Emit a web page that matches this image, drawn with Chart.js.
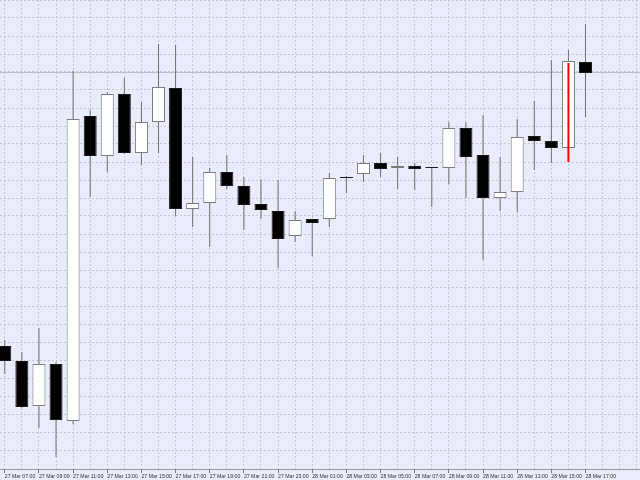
<!DOCTYPE html>
<html>
<head>
<meta charset="utf-8">
<title>Candles</title>
<script src="https://cdn.jsdelivr.net/npm/chart.js@4.4.0/dist/chart.umd.min.js"></script>
<style>
  html, body { margin: 0; padding: 0; background: #e9edfb; }
  #wrap { width: 640px; height: 480px; position: relative; }
</style>
</head>
<body>
<div id="wrap"><canvas id="myChart"></canvas></div>
<script>
// hourly bars, 27 Mar 07:00 -> 28 Mar 17:00 (price in points)
const times = [
  "27 Mar 07:00", "27 Mar 08:00", "27 Mar 09:00", "27 Mar 10:00", "27 Mar 11:00",
  "27 Mar 12:00", "27 Mar 13:00", "27 Mar 14:00", "27 Mar 15:00", "27 Mar 16:00",
  "27 Mar 17:00", "27 Mar 18:00", "27 Mar 19:00", "27 Mar 20:00", "27 Mar 21:00",
  "27 Mar 22:00", "27 Mar 23:00", "28 Mar 00:00", "28 Mar 01:00", "28 Mar 02:00",
  "28 Mar 03:00", "28 Mar 04:00", "28 Mar 05:00", "28 Mar 06:00", "28 Mar 07:00",
  "28 Mar 08:00", "28 Mar 09:00", "28 Mar 10:00", "28 Mar 11:00", "28 Mar 12:00",
  "28 Mar 13:00", "28 Mar 14:00", "28 Mar 15:00", "28 Mar 16:00", "28 Mar 17:00"
];
const opens  = [122, 107, 62, 104, 47, 352, 312, 374, 315, 346, 380, 259, 265, 296, 282, 264, 257, 232, 249, 249, 291, 294, 305, 300, 302, 301, 300, 340, 313, 270, 276, 332, 327, 320, 406];
const highs  = [128, 116, 140, 106, 397, 358, 376, 390, 366, 424, 423, 311, 300, 313, 291, 289, 288, 257, 249, 295, 292, 313, 315, 311, 305, 301, 346, 346, 353, 311, 349, 367, 408, 418, 444];
const lows   = [94, 60, 40, 11, 44, 271, 296, 314, 303, 315, 252, 241, 221, 279, 238, 249, 200, 226, 212, 241, 275, 286, 291, 279, 278, 261, 284, 270, 208, 257, 256, 298, 305, 306, 351];
const closes = [107, 61, 104, 48, 349, 312, 374, 315, 346, 381, 259, 265, 296, 282, 263, 258, 229, 248, 245, 290, 290, 305, 299, 302, 299, 300, 340, 311, 270, 276, 331, 327, 320, 407, 395];
// red vertical line drawn over the 28 Mar 16:00 bar
const markerIndex = 33;
const markerRange = [306, 405];

const wickData = times.map((t, i) => ({ x: i, y: [lows[i], highs[i]] }));
const bodyData = times.map((t, i) => ({ x: i, y: [opens[i], closes[i]] }));
const isUp = times.map((t, i) => closes[i] >= opens[i]);

// light grey line at the last close (like the bid line)
const bidLine = {
  id: 'bidLine',
  beforeDatasetsDraw(chart) {
    const { ctx, chartArea, scales } = chart;
    const y = Math.round(scales.y.getPixelForValue(closes[closes.length - 1])) - 0.5;
    ctx.save();
    ctx.strokeStyle = '#b9bdc8';
    ctx.lineWidth = 1;
    ctx.beginPath();
    ctx.moveTo(chartArea.left, y);
    ctx.lineTo(chartArea.right, y);
    ctx.stroke();
    ctx.restore();
  }
};

const ctx = document.getElementById('myChart');
const myChart = new Chart(ctx, {
  type: 'bar',
  data: {
    datasets: [
      {
        label: 'marker',
        data: [{ x: markerIndex, y: markerRange }],
        backgroundColor: '#ff0000',
        borderWidth: 0,
        barThickness: 2,
        grouped: false,
        inflateAmount: 0,
        order: 1
      },
      {
        label: 'body',
        data: bodyData,
        backgroundColor: isUp.map(u => u ? '#ffffff' : '#000000'),
        borderColor: isUp.map(u => u ? '#7c7c7c' : '#1a1a1a'),
        borderWidth: 1,
        borderSkipped: false,
        barThickness: 13,
        grouped: false,
        inflateAmount: 0,
        order: 2
      },
      {
        label: 'wick',
        data: wickData,
        backgroundColor: '#707070',
        borderWidth: 0,
        barThickness: 1,
        grouped: false,
        inflateAmount: 0,
        order: 3
      }
    ]
  },
  options: {
    animation: false,
    responsive: true,
    maintainAspectRatio: false,
    layout: { padding: 0 },
    plugins: {
      legend: { display: false },
      tooltip: { enabled: false }
    },
    scales: {
      x: {
        type: 'linear',
        offset: false,
        min: -0.28,
        max: 37.19,
        afterBuildTicks: (axis) => {
          const t = [];
          for (let i = 0; i <= 37; i++) t.push({ value: i });
          axis.ticks = t;
        },
        afterFit: (axis) => { axis.height = 11; },
        ticks: {
          autoSkip: false,
          maxRotation: 0,
          minRotation: 0,
          align: 'start',
          padding: 0,
          color: '#333333',
          font: { family: "'Liberation Sans Narrow', 'Liberation Sans', sans-serif", size: 5.2 },
          callback: (v) => (v % 2 === 0 && v < times.length) ? times[v] : ''
        },
        grid: {
          offset: false,
          color: '#c3c7d3',
          tickLength: 4,
          tickColor: (c) => (c.tick && c.tick.value % 2 === 0 && c.tick.value < times.length) ? '#777777' : 'rgba(0,0,0,0)'
        },
        border: { display: true, color: '#9a9a9a', dash: [2, 2] }
      },
      y: {
        min: -1,
        max: 468,
        afterFit: (axis) => { axis.width = 0; },
        ticks: { stepSize: 18, display: false },
        grid: { color: '#c3c7d3', drawTicks: false },
        border: { display: false, dash: [2, 2] }
      }
    }
  },
  plugins: [bidLine]
});
</script>
</body>
</html>
